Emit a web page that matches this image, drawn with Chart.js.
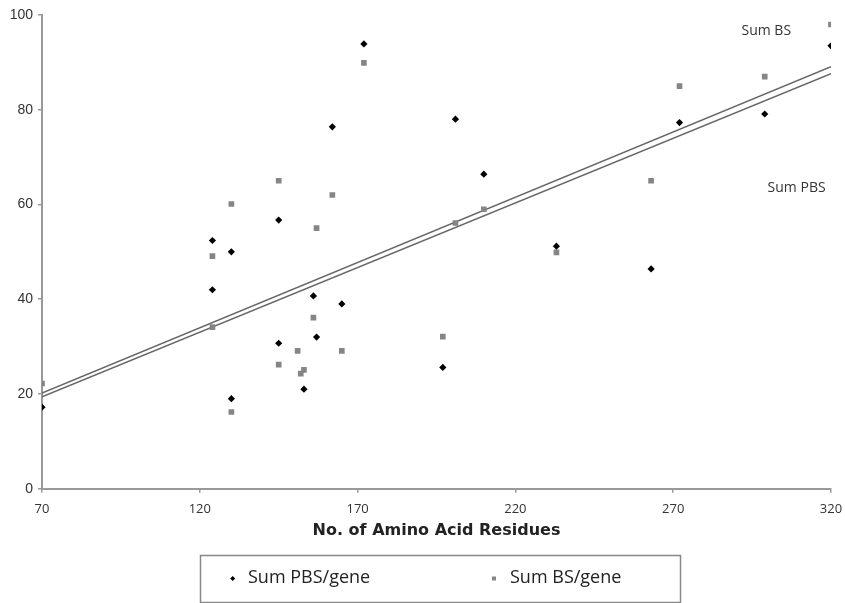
<!DOCTYPE html>
<html>
<head>
<meta charset="utf-8">
<script src="https://cdn.jsdelivr.net/npm/chart.js@4.4.1/dist/chart.umd.min.js"></script>
<style>
  body { margin: 0; background: #fff; }
  canvas { display: block; }
</style>
</head>
<body>
<canvas id="residues-chart" width="845" height="603"></canvas>
<script>
// values
const pbsX = [70, 124, 124, 130, 130, 145, 145, 153, 156, 157, 162, 165, 172, 197, 201, 210, 233, 263, 272, 299, 320];
const pbsY = [17.2, 52.4, 42, 50, 19, 56.7, 30.7, 21, 40.7, 32, 76.4, 39, 93.9, 25.6, 78, 66.4, 51.2, 46.4, 77.3, 79.1, 93.5];
const bsX = [70, 124, 124, 130, 130, 145, 145, 151, 152, 153, 156, 157, 162, 165, 172, 197, 201, 210, 233, 263, 272, 299, 320];
const bsY = [22.2, 49.1, 34.1, 60.1, 16.2, 65, 26.2, 29.1, 24.3, 25.1, 36.1, 55, 62, 29.1, 89.9, 32.1, 56.1, 59, 49.9, 65, 85, 87, 98];

// trend line end points (x = 70 and x = 320)
const trendX = [70, 320];
const bsTrendY = [20.2, 89.1];
const pbsTrendY = [19.4, 87.6];

const xTicks = [70, 120, 170, 220, 270, 320];
const yTicks = [0, 20, 40, 60, 80, 100];

const toPoints = (xs, ys) => xs.map((x, i) => ({ x: x, y: ys[i] }));

// legend box and the two "Sum" labels
const extrasPlugin = {
    id: 'extras',
    afterDraw(chart) {
        const ctx = chart.ctx;
        const xs = chart.scales.x;
        const ys = chart.scales.y;
        ctx.save();

        // line labels
        ctx.fillStyle = '#333';
        ctx.font = '14px "Open Sans"';
        ctx.textAlign = 'center';
        ctx.textBaseline = 'middle';
        ctx.fillText('Sum BS', xs.getPixelForValue(299.5), ys.getPixelForValue(96.6));
        ctx.fillText('Sum PBS', xs.getPixelForValue(309.1), ys.getPixelForValue(63.5));

        // legend
        ctx.strokeStyle = '#888';
        ctx.lineWidth = 1.5;
        ctx.strokeRect(200.5, 555.5, 480, 47);

        ctx.fillStyle = '#000';
        ctx.beginPath();
        ctx.moveTo(232.7, 576);
        ctx.lineTo(235.2, 578.5);
        ctx.lineTo(232.7, 581);
        ctx.lineTo(230.2, 578.5);
        ctx.closePath();
        ctx.fill();

        ctx.fillStyle = '#888';
        ctx.fillRect(492, 576.5, 4, 4);

        ctx.fillStyle = '#222';
        ctx.font = '18px "Open Sans"';
        ctx.textAlign = 'left';
        ctx.fillText('Sum PBS/gene', 248, 578);
        ctx.fillText('Sum BS/gene', 510, 578);
        ctx.restore();
    }
};

const ctx = document.getElementById('residues-chart');

new Chart(ctx, {
    type: 'scatter',
    data: {
        datasets: [
            {
                label: 'Sum PBS/gene',
                data: toPoints(pbsX, pbsY),
                pointStyle: 'rectRot',
                pointRadius: 3.6,
                backgroundColor: '#000',
                borderColor: '#000',
                borderWidth: 0,
                order: 1
            },
            {
                label: 'Sum BS/gene',
                data: toPoints(bsX, bsY),
                pointStyle: 'rect',
                pointRadius: 4,
                backgroundColor: '#858585',
                borderColor: '#858585',
                borderWidth: 0,
                order: 2
            },
            {
                type: 'line',
                label: 'Sum BS',
                data: toPoints(trendX, bsTrendY),
                borderColor: '#666',
                borderWidth: 1.6,
                pointRadius: 0,
                fill: false,
                order: 3
            },
            {
                type: 'line',
                label: 'Sum PBS',
                data: toPoints(trendX, pbsTrendY),
                borderColor: '#666',
                borderWidth: 1.6,
                pointRadius: 0,
                fill: false,
                order: 3
            }
        ]
    },
    options: {
        responsive: false,
        animation: false,
        devicePixelRatio: 1,
        layout: {
            padding: { left: 0, right: 14, top: 15, bottom: 63 }
        },
        plugins: {
            legend: { display: false },
            tooltip: { enabled: false }
        },
        scales: {
            x: {
                type: 'linear',
                min: 70,
                max: 320,
                afterBuildTicks: (scale) => {
                    scale.ticks = xTicks.map(v => ({ value: v }));
                },
                afterFit: (scale) => {
                    scale.height = 51.3;
                    scale.paddingLeft = 0;
                    scale.paddingRight = 0;
                },
                grid: {
                    drawOnChartArea: false,
                    drawTicks: true,
                    tickLength: 4,
                    color: '#999',
                    lineWidth: 1.5
                },
                border: { display: true, color: '#999', width: 2 },
                ticks: {
                    padding: 9,
                    color: '#333',
                    font: { family: '"Open Sans"', size: 13 }
                },
                title: {
                    display: true,
                    text: 'No. of Amino Acid Residues',
                    color: '#222',
                    font: { family: '"DejaVu Sans"', size: 16, weight: 'bold' },
                    padding: { top: 0, bottom: 0 }
                }
            },
            y: {
                min: 0,
                max: 100,
                afterBuildTicks: (scale) => {
                    scale.ticks = yTicks.map(v => ({ value: v }));
                },
                afterFit: (scale) => {
                    scale.width = 42;
                    scale.paddingTop = 0;
                    scale.paddingBottom = 0;
                },
                grid: {
                    drawOnChartArea: false,
                    drawTicks: true,
                    tickLength: 4,
                    color: '#999',
                    lineWidth: 1.5
                },
                border: { display: true, color: '#999', width: 2 },
                ticks: {
                    padding: 5,
                    color: '#333',
                    font: { family: '"Liberation Sans"', size: 14 }
                }
            }
        }
    },
    plugins: [extrasPlugin]
});
</script>
</body>
</html>
